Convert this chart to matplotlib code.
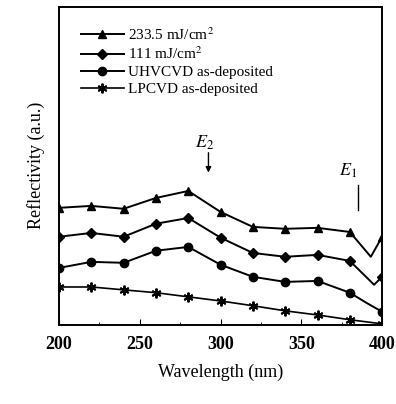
import matplotlib
matplotlib.use('Agg')
import matplotlib.pyplot as plt
from matplotlib.ticker import MultipleLocator

plt.rcParams.update({
    'font.family': 'Liberation Serif',
    'font.size': 12,
    'mathtext.fontset': 'stix',
})

# --- datos (unidades arbitrarias) ---
wl_233 = [200, 220, 240, 260, 280, 300, 320, 340, 360, 380, 393, 400]
r_233 = [3.68, 3.74, 3.65, 3.99, 4.21, 3.55, 3.08, 3.02, 3.05, 2.92, 2.14, 2.77]

wl_111 = [200, 220, 240, 260, 280, 300, 320, 340, 360, 380, 395, 400]
r_111 = [2.77, 2.89, 2.77, 3.18, 3.36, 2.74, 2.26, 2.14, 2.20, 2.01, 1.26, 1.51]

wl_uhv = [200, 220, 240, 260, 280, 300, 320, 340, 360, 380, 390, 400]
r_uhv = [1.79, 1.98, 1.95, 2.33, 2.45, 1.89, 1.51, 1.35, 1.38, 1.01, 0.70, 0.41]

wl_lp = [200, 220, 240, 260, 280, 300, 320, 340, 360, 380, 400]
r_lp = [1.19, 1.19, 1.10, 1.01, 0.88, 0.75, 0.60, 0.44, 0.31, 0.16, 0.03]

labels = ['233.5 mJ/cm$^2$', '111 mJ/cm$^2$', 'UHVCVD as-deposited', 'LPCVD as-deposited']

fig = plt.figure(figsize=(3.96, 4.04), dpi=100)
ax = fig.add_axes([0.149, 0.196, 0.816, 0.787])

mk_grid = lambda wl: [i for i, w in enumerate(wl) if w % 20 == 0]

ax.plot(wl_233, r_233, 'k-', marker='^', ms=6, lw=1.4, markevery=mk_grid(wl_233), label=labels[0])
ax.plot(wl_111, r_111, 'k-', marker='D', ms=5, lw=1.4, markevery=mk_grid(wl_111), label=labels[1])
ax.plot(wl_uhv, r_uhv, 'k-', marker='o', ms=6, lw=1.4, markevery=mk_grid(wl_uhv), label=labels[2])
ax.plot(wl_lp, r_lp, 'k-', marker=(6, 2, 0), ms=7, mew=1.4, lw=1.2, markevery=mk_grid(wl_lp), label=labels[3])

ax.set_xlim(200, 400)
ax.set_ylim(0, 10)
ax.set_yticks([])
ax.xaxis.set_major_locator(MultipleLocator(50))
ax.xaxis.set_minor_locator(MultipleLocator(25))
ax.tick_params(axis='x', direction='in', length=4, labelsize=13, pad=8)
ax.tick_params(axis='x', which='minor', direction='in', length=2)
for lab in ax.get_xticklabels():
    lab.set_fontweight('bold')
for s in ax.spines.values():
    s.set_linewidth(1.4)

ax.set_xlabel('Wavelength (nm)', fontsize=13, labelpad=8)
ax.set_ylabel('Reflectivity (a.u.)', fontsize=13, labelpad=10)

ax.legend(loc='upper left', bbox_to_anchor=(0.04, 0.968), frameon=False, fontsize=11,
          handlelength=2.8, borderaxespad=0.2, labelspacing=0.2, handletextpad=0.3)

# anotaciones E2 y E1
ax.annotate('', xy=(292.5, 4.7), xytext=(292.5, 5.5),
            arrowprops=dict(arrowstyle='-|>', color='k', lw=1.0, mutation_scale=8))
ax.text(290, 5.45, '$E_2$', fontsize=13, ha='center', va='bottom')
ax.plot([385, 385], [3.6, 4.4], 'k-', lw=1.0)
ax.text(379, 4.55, '$E_1$', fontsize=13, ha='center', va='bottom')

fig.savefig('out.png', dpi=100)
